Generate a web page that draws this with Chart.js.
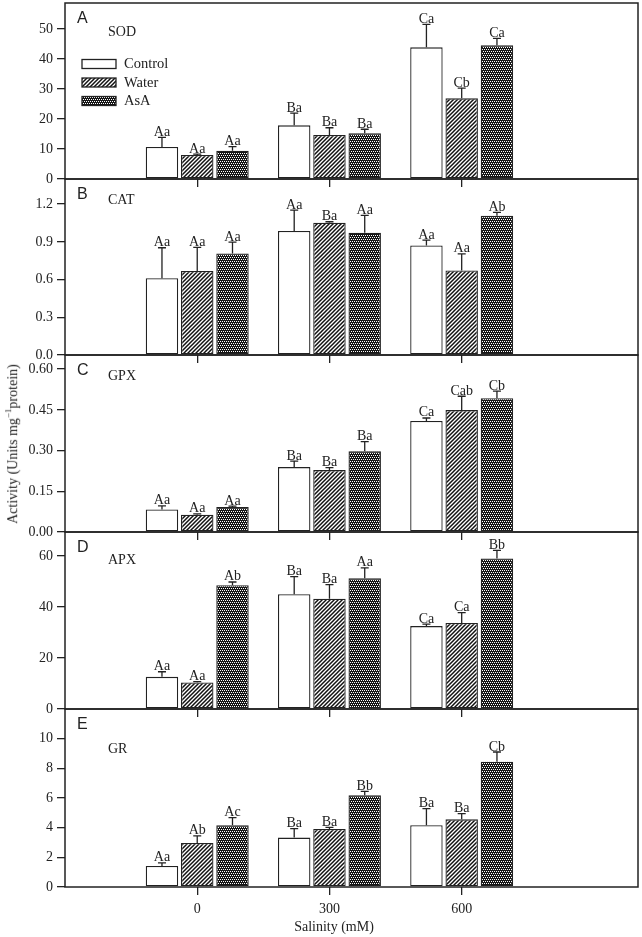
<!DOCTYPE html>
<html lang="en">
<head>
<meta charset="UTF-8">
<title>Antioxidant enzyme activity vs salinity</title>
<script src="https://cdn.jsdelivr.net/npm/chart.js@4.4.0/dist/chart.umd.min.js"></script>
<style>
  body { margin: 0; background: #fff; }
  #figure { position: relative; width: 642px; height: 937px; overflow: hidden;
            font-family: 'Liberation Serif', 'Times New Roman', serif; color: #222; }
  #figure canvas { position: absolute; left: 0; }
  .ytitle { position: absolute; left: 12px; top: 444px; transform: translate(-50%, -50%) rotate(-90deg);
            white-space: nowrap; font-size: 14px; }
  .ytitle sup { font-size: 9px; }
  .xtitle { position: absolute; left: 334px; top: 927px; transform: translate(-50%, -50%);
            white-space: nowrap; font-size: 14px; }
</style>
</head>
<body>
<div id="figure">
  <canvas id="panelA"></canvas>
  <canvas id="panelB"></canvas>
  <canvas id="panelC"></canvas>
  <canvas id="panelD"></canvas>
  <canvas id="panelE"></canvas>
  <div class="ytitle">Activity (Units mg<sup>&minus;1</sup>protein)</div>
  <div class="xtitle">Salinity (mM)</div>
</div>

<script>
// ---- data (rows: Control, Water, AsA; columns: 0, 300, 600 mM) ----
const salinity = [0, 300, 600];
const treatments = ['Control', 'Water', 'AsA'];

const sodMeans = [[10.7, 17.9, 43.9], [8.0, 14.7, 26.9], [9.4, 15.3, 44.6]];
const sodErr = [[3.2, 4.1, 7.7], [0.3, 2.4, 3.4], [1.4, 1.3, 2.3]];
const sodLetters = [['Aa', 'Ba', 'Ca'], ['Aa', 'Ba', 'Cb'], ['Aa', 'Ba', 'Ca']];

const catMeans = [[0.61, 0.986, 0.872], [0.668, 1.052, 0.673], [0.808, 0.972, 1.107]];
const catErr = [[0.243, 0.167, 0.042], [0.188, 0.008, 0.132], [0.09, 0.138, 0.027]];
const catLetters = [['Aa', 'Aa', 'Aa'], ['Aa', 'Ba', 'Aa'], ['Aa', 'Aa', 'Ab']];

const gpxMeans = [[0.083, 0.239, 0.409], [0.064, 0.228, 0.449], [0.092, 0.297, 0.493]];
const gpxErr = [[0.013, 0.022, 0.011], [0.003, 0.009, 0.051], [0.003, 0.036, 0.026]];
const gpxLetters = [['Aa', 'Ba', 'Ca'], ['Aa', 'Ba', 'Cab'], ['Aa', 'Ba', 'Cb']];

const apxMeans = [[12.6, 45.0, 32.5], [10.4, 43.2, 33.7], [48.5, 51.3, 59.0]];
const apxErr = [[2.0, 6.9, 0.8], [0.3, 5.6, 4.1], [1.3, 4.0, 3.2]];
const apxLetters = [['Aa', 'Ba', 'Ca'], ['Aa', 'Ba', 'Ca'], ['Ab', 'Aa', 'Bb']];

const grMeans = [[1.42, 3.33, 4.16], [2.97, 3.91, 4.56], [4.16, 6.18, 8.45]];
const grErr = [[0.2, 0.6, 1.12], [0.47, 0.11, 0.39], [0.52, 0.27, 0.65]];
const grLetters = [['Aa', 'Ba', 'Ba'], ['Ab', 'Ba', 'Ba'], ['Ac', 'Bb', 'Cb']];

const ink = '#222';
const serif = "'Liberation Serif', 'Times New Roman', serif";
const sans = "'Liberation Sans', Arial, sans-serif";

// panel layout: chart area top/bottom in page pixels
const panels = [
  { id: 'panelA', letter: 'A', name: 'SOD', means: sodMeans, err: sodErr, letters: sodLetters,
    yMax: 58.7, step: 10, dec: 0, top: 3, bottom: 179, nameDy: 29, legend: true },
  { id: 'panelB', letter: 'B', name: 'CAT', means: catMeans, err: catErr, letters: catLetters,
    yMax: 1.4, step: 0.3, dec: 1, top: 179, bottom: 355, nameDy: 21 },
  { id: 'panelC', letter: 'C', name: 'GPX', means: gpxMeans, err: gpxErr, letters: gpxLetters,
    yMax: 0.652, step: 0.15, dec: 2, top: 355, bottom: 532, nameDy: 21 },
  { id: 'panelD', letter: 'D', name: 'APX', means: apxMeans, err: apxErr, letters: apxLetters,
    yMax: 69.4, step: 20, dec: 0, top: 532, bottom: 709, nameDy: 28 },
  { id: 'panelE', letter: 'E', name: 'GR', means: grMeans, err: grErr, letters: grLetters,
    yMax: 12, step: 2, dec: 0, top: 709, bottom: 887, nameDy: 40, last: true }
];

// fill patterns
function makePattern(draw) {
  const c = document.createElement('canvas');
  c.width = 4; c.height = 4;
  const g = c.getContext('2d');
  draw(g);
  return g.createPattern(c, 'repeat');
}
const hatch = makePattern(g => {
  g.fillStyle = '#fff'; g.fillRect(0, 0, 4, 4);
  g.strokeStyle = '#111'; g.lineWidth = 1.5;
  g.beginPath();
  g.moveTo(-1, 5); g.lineTo(5, -1);
  g.moveTo(-1, 1); g.lineTo(1, -1);
  g.moveTo(3, 5); g.lineTo(5, 3);
  g.stroke();
});
const dots = makePattern(g => {
  g.fillStyle = '#151515'; g.fillRect(0, 0, 4, 4);
  g.fillStyle = '#fff';
  g.fillRect(0, 0, 1, 1); g.fillRect(2, 0, 1, 1);
  g.fillRect(1, 2, 1, 1); g.fillRect(3, 2, 1, 1);
});
const fills = ['#fff', hatch, dots];

// error bars, significance letters, frame, panel labels, legend
const panelDecor = {
  id: 'panelDecor',
  afterDatasetsDraw(chart, args, opts) {
    const ctx = chart.ctx;
    const y = chart.scales.y;
    const a = chart.chartArea;
    ctx.save();
    ctx.strokeStyle = ink;
    ctx.fillStyle = ink;
    ctx.lineWidth = 1.3;
    ctx.font = '14px ' + serif;
    ctx.textAlign = 'center';
    ctx.textBaseline = 'alphabetic';
    chart.data.datasets.forEach((ds, di) => {
      chart.getDatasetMeta(di).data.forEach((bar, i) => {
        const yTop = y.getPixelForValue(ds.data[i].y + ds.err[i]);
        ctx.beginPath();
        ctx.moveTo(bar.x, bar.y);
        ctx.lineTo(bar.x, yTop);
        ctx.moveTo(bar.x - 4, yTop);
        ctx.lineTo(bar.x + 4, yTop);
        ctx.stroke();
        ctx.fillText(ds.letters[i], bar.x, yTop - 1.5);
      });
    });

    ctx.lineWidth = 1.5;
    ctx.strokeRect(a.left, a.top, a.right - a.left, a.bottom - a.top);

    ctx.textAlign = 'left';
    ctx.textBaseline = 'middle';
    ctx.font = '16px ' + sans;
    ctx.fillText(opts.letter, a.left + 12, a.top + 16);
    ctx.font = '14px ' + serif;
    ctx.fillText(opts.name, a.left + 43, a.top + opts.nameDy);

    if (opts.legend) {
      chart.data.datasets.forEach((ds, di) => {
        const cy = a.top + 61 + di * 18.5;
        ctx.fillStyle = ds.backgroundColor;
        ctx.fillRect(a.left + 17, cy - 4.5, 34, 9);
        ctx.lineWidth = 1.3;
        ctx.strokeRect(a.left + 17, cy - 4.5, 34, 9);
        ctx.fillStyle = ink;
        ctx.font = '14.5px ' + serif;
        ctx.fillText(ds.label, a.left + 59, cy + 0.5);
      });
    }
    ctx.restore();
  }
};

Chart.defaults.font.family = serif;
Chart.defaults.font.size = 14;
Chart.defaults.color = ink;

panels.forEach(p => {
  const padTop = 14;
  const axisH = p.last ? 50 : 14;
  const canvas = document.getElementById(p.id);
  canvas.width = 642;
  canvas.height = padTop + (p.bottom - p.top) + axisH;
  canvas.style.top = (p.top - padTop) + 'px';

  const datasets = treatments.map((t, k) => ({
    label: t,
    data: salinity.map((s, i) => ({ x: s, y: p.means[k][i] })),
    err: p.err[k],
    letters: p.letters[k],
    backgroundColor: fills[k],
    borderColor: ink,
    borderWidth: 1.3,
    borderSkipped: false,
    categoryPercentage: 0.8,
    barPercentage: 0.92
  }));

  new Chart(canvas, {
    type: 'bar',
    data: { datasets: datasets },
    options: {
      responsive: false,
      animation: false,
      events: [],
      layout: { padding: { top: padTop, right: 4, left: 0, bottom: 0 } },
      plugins: {
        legend: { display: false },
        tooltip: { enabled: false },
        panelDecor: { letter: p.letter, name: p.name, nameDy: p.nameDy, legend: !!p.legend }
      },
      scales: {
        x: {
          type: 'linear',
          min: -300,
          max: 1000,
          offset: false,
          afterBuildTicks: s => { s.ticks = salinity.map(v => ({ value: v })); },
          afterFit: s => { s.height = axisH; },
          ticks: { display: !!p.last, padding: 6, font: { size: 14 }, color: ink },
          grid: { display: true, offset: false, drawOnChartArea: false, drawTicks: true,
                  tickLength: 8, color: ink, lineWidth: 1.3 },
          border: { display: false }
        },
        y: {
          min: 0,
          max: p.yMax,
          afterFit: s => { s.width = 65; },
          // the top edge of each panel carries no label
          afterBuildTicks: s => { s.ticks = s.ticks.filter(t => t.value < p.yMax - 1e-9); },
          ticks: {
            stepSize: p.step,
            includeBounds: false,
            autoSkip: false,
            padding: 4,
            font: { size: 14 },
            color: ink,
            callback: v => Number(v).toFixed(p.dec)
          },
          grid: { display: true, drawOnChartArea: false, drawTicks: true,
                  tickLength: 8, color: ink, lineWidth: 1.3 },
          border: { display: false }
        }
      }
    },
    plugins: [panelDecor]
  });
});
</script>
</body>
</html>
